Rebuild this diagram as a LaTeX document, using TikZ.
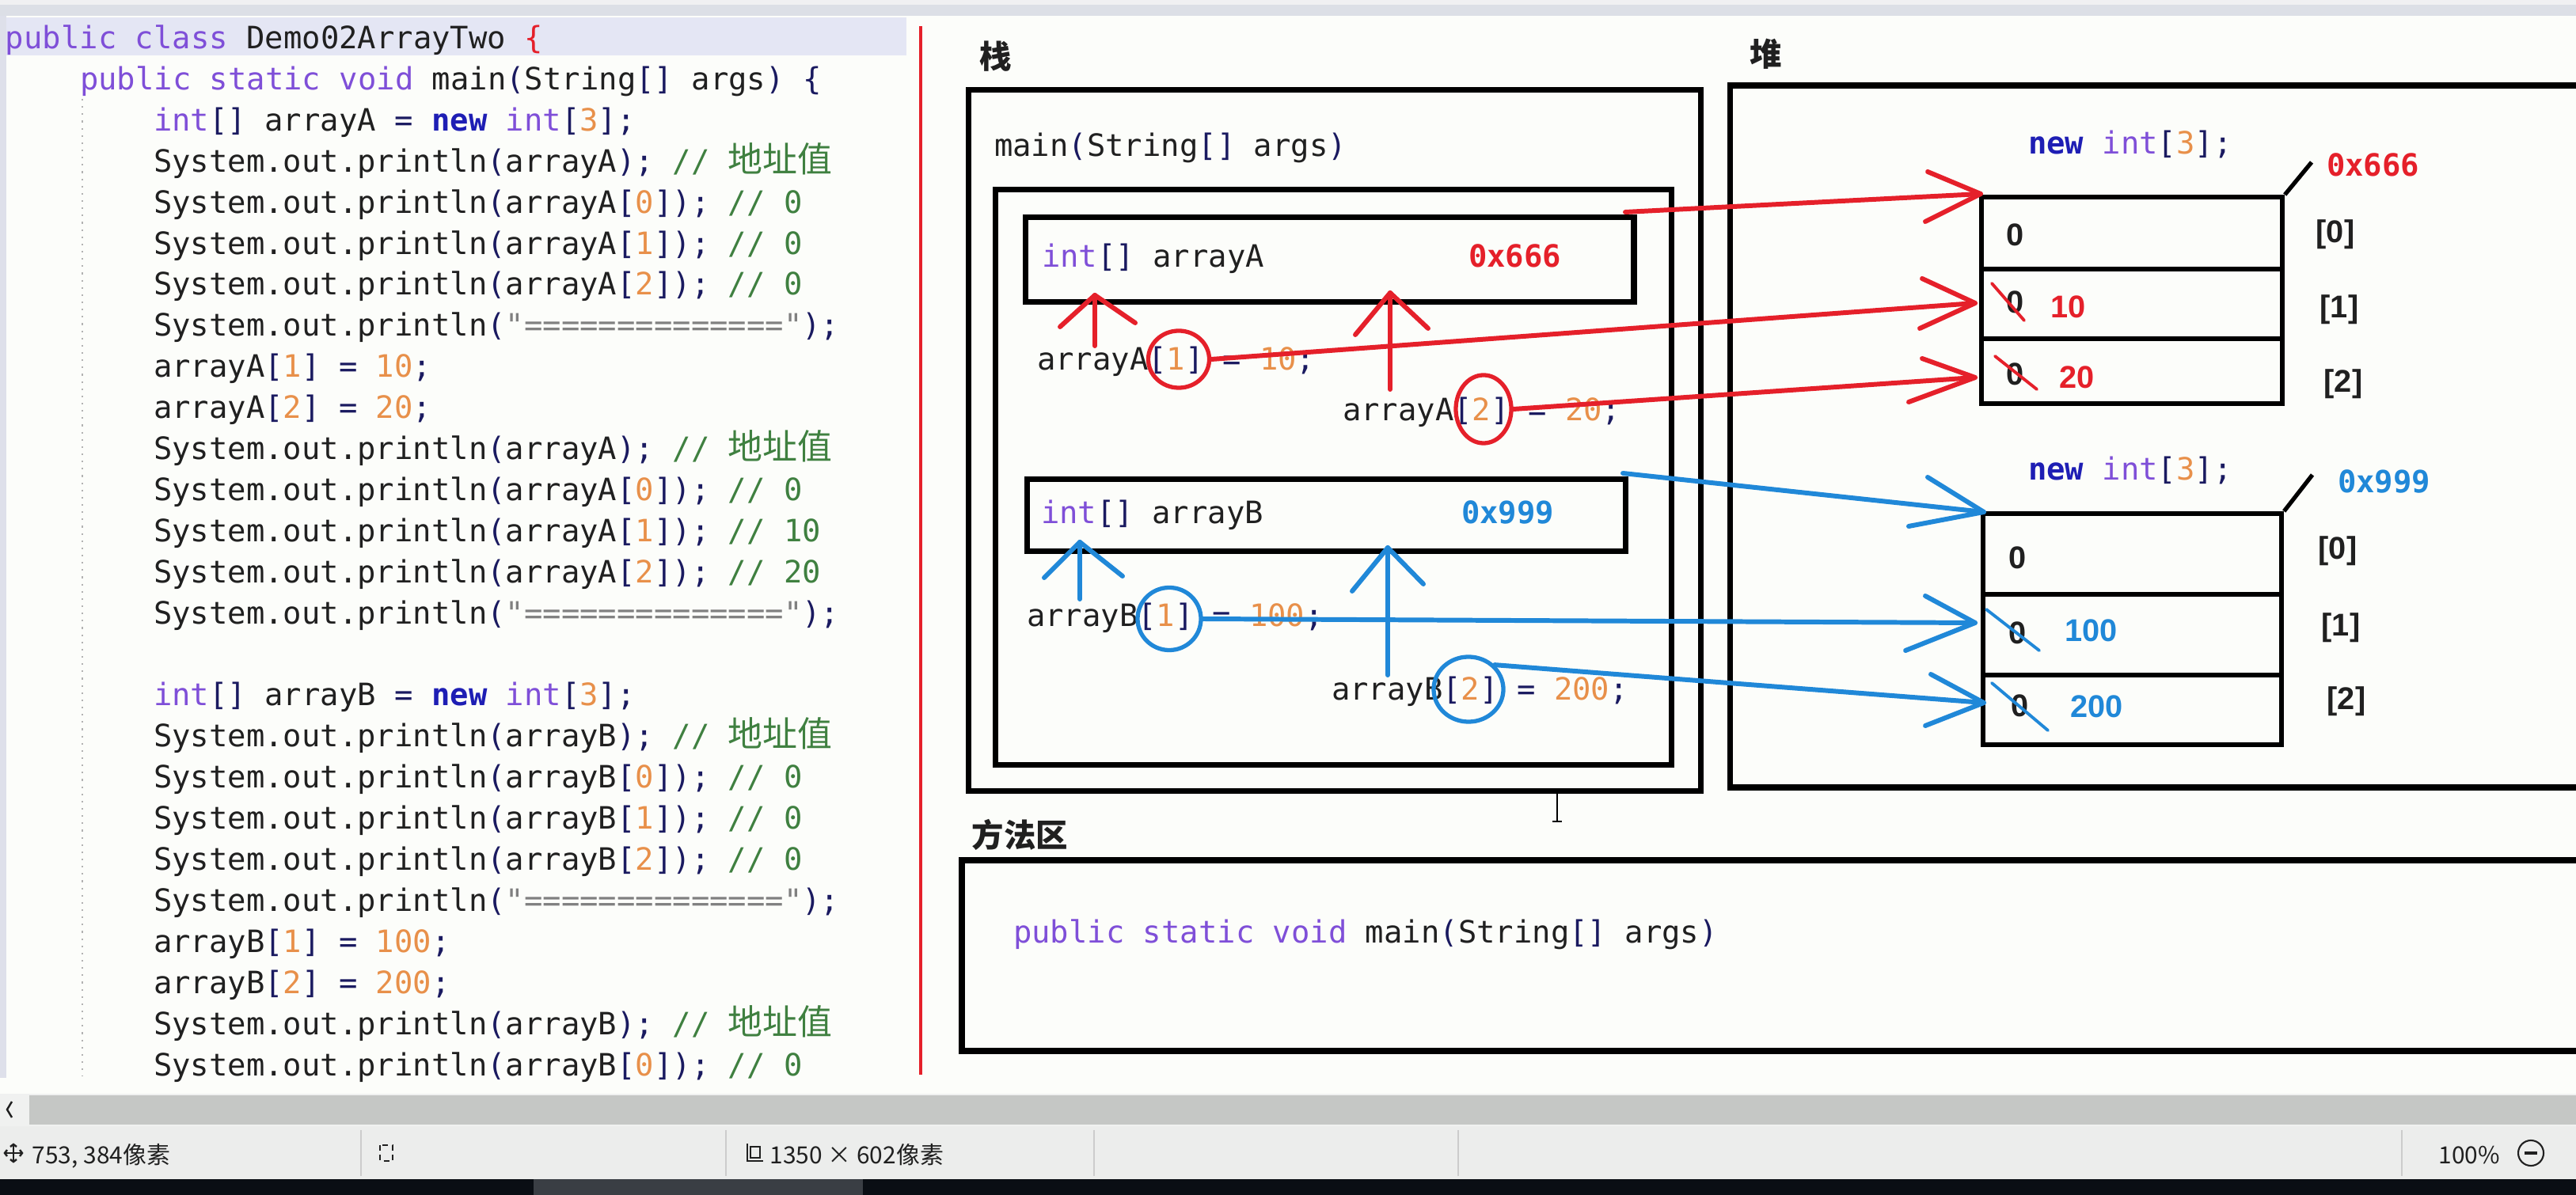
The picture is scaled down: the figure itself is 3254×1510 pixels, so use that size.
\documentclass[tikz,border=0pt]{standalone}
\usepackage{fontspec}
\usetikzlibrary{shapes.geometric}
\setmonofont{DejaVu Sans Mono}
\newfontfamily\cjk{Noto Sans CJK SC}
\newfontfamily\sansb{Liberation Sans}
\definecolor{bg}{HTML}{FCFDFA}
\definecolor{txt}{HTML}{202020}
\definecolor{kwc}{HTML}{7F4FD8}
\definecolor{newc}{HTML}{1E1EB4}
\definecolor{brc}{HTML}{1A1A60}
\definecolor{numc}{HTML}{E8904A}
\definecolor{cmc}{HTML}{3F8040}
\definecolor{strc}{HTML}{808080}
\definecolor{pred}{HTML}{E5202A}
\definecolor{pblue}{HTML}{2088D8}
\definecolor{hl}{HTML}{E4E6F4}
\newcommand\jkw[1]{\textcolor{kwc}{#1}}
\newcommand\jbr[1]{\textcolor{brc}{#1}}
\newcommand\jnum[1]{\textcolor{numc}{#1}}
\newcommand\jcm[1]{\textcolor{cmc}{#1}}
\newcommand\jstr[1]{\textcolor{strc}{#1}}
\newcommand\jnew{\textcolor{newc}{\bfseries new}}
\newcommand\cjkc[1]{{\cjk\fontsize{12.5}{13}\selectfont #1}}
\begin{document}
\begin{tikzpicture}[x=0.01cm,y=-0.01cm,
  code/.style={anchor=mid west,inner sep=0pt,outer sep=0pt,yshift=-0.07cm,font=\ttfamily\fontsize{11.06}{13}\selectfont,text=txt},
  cellnum/.style={anchor=mid west,inner sep=0pt,yshift=-0.06cm,font=\sansb\bfseries\fontsize{11.3}{13}\selectfont,text=txt},
  titlecjk/.style={anchor=mid west,inner sep=0pt,yshift=-0.06cm,font=\cjk\bfseries\fontsize{11.5}{13}\selectfont,text=txt},
  frame/.style={draw=black,line width=2pt,anchor=north west,inner sep=0pt},
  redpen/.style={draw=pred,line width=1.7pt,line cap=round,line join=round},
  bluepen/.style={draw=pblue,line width=1.7pt,line cap=round,line join=round},
  thinred/.style={draw=pred,line width=1.1pt,line cap=round},
  thinblue/.style={draw=pblue,line width=1.1pt,line cap=round},
  circA/.style={draw=pred,line width=1.5pt,ellipse,inner sep=0pt},
  circB/.style={draw=pblue,line width=1.5pt,ellipse,inner sep=0pt},
  status/.style={anchor=mid west,inner sep=0pt,yshift=-0.06cm,font=\cjk\fontsize{8.5}{10}\selectfont,text=txt}]
\useasboundingbox (0,0) rectangle (3254,1510);
\fill[bg] (0,0) rectangle (3254,1510);
% top bar and left strip
\fill[fill={rgb,255:red,220;green,223;blue,230}] (0,0) rectangle (3254,20);
\fill[fill={rgb,255:red,240;green,240;blue,242}] (0,0) rectangle (3254,6);
\fill[fill={rgb,255:red,222;green,224;blue,234}] (0,20) rectangle (8,1362);
% line 1 highlight
\fill[hl] (8,22) rectangle (1145,70);
% indent guide
\draw[gray!60,dotted,line width=0.6pt] (104,125) -- (104,1360);
% code lines
\node[code] (l1) at (7,47) {\jkw{public} \jkw{class} Demo02ArrayTwo \textcolor{pred}{\{}};
\node[code] (l2) at (101,99) {\jkw{public} \jkw{static} \jkw{void} main\jbr{(}String\jbr{[]} args\jbr{)} \jbr{\{}};
\node[code] (l3) at (194,151) {\jkw{int}\jbr{[]} arrayA \jbr{=} \jnew{} \jkw{int}\jbr{[}\jnum{3}\jbr{];}};
\node[code] (l4) at (194,203) {System.out.println\jbr{(}arrayA\jbr{);} \jcm{// \cjkc{地址值}}};
\node[code] (l5) at (194,255) {System.out.println\jbr{(}arrayA\jbr{[}\jnum{0}\jbr{]);} \jcm{// 0}};
\node[code] (l6) at (194,307) {System.out.println\jbr{(}arrayA\jbr{[}\jnum{1}\jbr{]);} \jcm{// 0}};
\node[code] (l7) at (194,358) {System.out.println\jbr{(}arrayA\jbr{[}\jnum{2}\jbr{]);} \jcm{// 0}};
\node[code] (l8) at (194,410) {System.out.println\jbr{(}\jstr{"=============="}\jbr{);}};
\node[code] (l9) at (194,462) {arrayA\jbr{[}\jnum{1}\jbr{]} \jbr{=} \jnum{10}\jbr{;}};
\node[code] (l10) at (194,514) {arrayA\jbr{[}\jnum{2}\jbr{]} \jbr{=} \jnum{20}\jbr{;}};
\node[code] (l11) at (194,566) {System.out.println\jbr{(}arrayA\jbr{);} \jcm{// \cjkc{地址值}}};
\node[code] (l12) at (194,618) {System.out.println\jbr{(}arrayA\jbr{[}\jnum{0}\jbr{]);} \jcm{// 0}};
\node[code] (l13) at (194,670) {System.out.println\jbr{(}arrayA\jbr{[}\jnum{1}\jbr{]);} \jcm{// 10}};
\node[code] (l14) at (194,722) {System.out.println\jbr{(}arrayA\jbr{[}\jnum{2}\jbr{]);} \jcm{// 20}};
\node[code] (l15) at (194,774) {System.out.println\jbr{(}\jstr{"=============="}\jbr{);}};
\node[code] (l17) at (194,877) {\jkw{int}\jbr{[]} arrayB \jbr{=} \jnew{} \jkw{int}\jbr{[}\jnum{3}\jbr{];}};
\node[code] (l18) at (194,929) {System.out.println\jbr{(}arrayB\jbr{);} \jcm{// \cjkc{地址值}}};
\node[code] (l19) at (194,981) {System.out.println\jbr{(}arrayB\jbr{[}\jnum{0}\jbr{]);} \jcm{// 0}};
\node[code] (l20) at (194,1033) {System.out.println\jbr{(}arrayB\jbr{[}\jnum{1}\jbr{]);} \jcm{// 0}};
\node[code] (l21) at (194,1085) {System.out.println\jbr{(}arrayB\jbr{[}\jnum{2}\jbr{]);} \jcm{// 0}};
\node[code] (l22) at (194,1137) {System.out.println\jbr{(}\jstr{"=============="}\jbr{);}};
\node[code] (l23) at (194,1189) {arrayB\jbr{[}\jnum{1}\jbr{]} \jbr{=} \jnum{100}\jbr{;}};
\node[code] (l24) at (194,1241) {arrayB\jbr{[}\jnum{2}\jbr{]} \jbr{=} \jnum{200}\jbr{;}};
\node[code] (l25) at (194,1293) {System.out.println\jbr{(}arrayB\jbr{);} \jcm{// \cjkc{地址值}}};
\node[code] (l26) at (194,1345) {System.out.println\jbr{(}arrayB\jbr{[}\jnum{0}\jbr{]);} \jcm{// 0}};
% red separator
\draw[pred,line width=1.4pt] (1163,33) -- (1163,1358);
% titles
\node[titlecjk] (zhan) at (1237,73) {栈};
\node[titlecjk] (dui) at (2210,70) {堆};
\node[titlecjk] (ffq) at (1227,1057) {方法区};
% stack frames
\node[frame,minimum width=9.24cm,minimum height=8.85cm] (stack) at (1220,110) {};
\node[frame,minimum width=8.53cm,minimum height=7.27cm] (mainf) at (1254,236) {};
\node[frame,minimum width=7.68cm,minimum height=1.07cm] (boxA) at (1292,271) {};
\node[frame,minimum width=7.56cm,minimum height=0.91cm] (boxB) at (1294,602) {};
\node[code] (mainsig) at (1256,183) {main\jbr{(}String\jbr{[]} args\jbr{)}};
\node[code] (declA) at (1316,323) {\jkw{int}\jbr{[]} arrayA};
\node[code,text=pred,font=\ttfamily\bfseries\fontsize{11.06}{13}\selectfont] (addrA) at (1855,323) {0x666};
\node[code] (declB) at (1315,647) {\jkw{int}\jbr{[]} arrayB};
\node[code,text=pblue,font=\ttfamily\bfseries\fontsize{11.06}{13}\selectfont] (addrB) at (1846,647) {0x999};
\node[code] (asA1) at (1310,453) {arrayA\jbr{[}\jnum{1}\jbr{]} \jbr{=} \jnum{10}\jbr{;}};
\node[code] (asA2) at (1696,517) {arrayA\jbr{[}\jnum{2}\jbr{]} \jbr{=} \jnum{20}\jbr{;}};
\node[code] (asB1) at (1297,777) {arrayB\jbr{[}\jnum{1}\jbr{]} \jbr{=} \jnum{100}\jbr{;}};
\node[code] (asB2) at (1682,870) {arrayB\jbr{[}\jnum{2}\jbr{]} \jbr{=} \jnum{200}\jbr{;}};
% heap frame (open at right)
\draw[black,line width=2pt] (3262,108) -- (2185,108) -- (2185,995) -- (3262,995);
% method area (open at right)
\draw[black,line width=2pt] (3262,1087) -- (1215,1087) -- (1215,1328) -- (3262,1328);
\node[code] (msig) at (1280,1177) {\jkw{public} \jkw{static} \jkw{void} main\jbr{(}String\jbr{[]} args\jbr{)}};
% heap array A
\node[code] (newA) at (2562,180) {\jnew{} \jkw{int}\jbr{[}\jnum{3}\jbr{];}};
\node[frame,line width=1.7pt,minimum width=3.8cm,minimum height=0.91cm] (hA0) at (2500,246) {};
\node[frame,line width=1.7pt,minimum width=3.8cm,minimum height=0.88cm] (hA1) at (2500,337) {};
\node[frame,line width=1.7pt,minimum width=3.8cm,minimum height=0.82cm] (hA2) at (2500,425) {};
\draw[black,line width=1.5pt] (hA0.north east) -- (2920,205);
\node[code,text=pred,font=\ttfamily\bfseries\fontsize{11.06}{13}\selectfont] (hAaddr) at (2939,208) {0x666};
\node[cellnum] (vA0) at (2534,297) {0};
\node[cellnum] (vA1) at (2534,382) {0};
\node[cellnum] (vA2) at (2534,473) {0};
\node[cellnum,text=pred] (nA1) at (2590,388) {10};
\node[cellnum,text=pred] (nA2) at (2601,477) {20};
\node[cellnum] (iA0) at (2925,293) {[0]};
\node[cellnum] (iA1) at (2930,388) {[1]};
\node[cellnum] (iA2) at (2935,482) {[2]};
\draw[thinred] (2516,358) -- (2557,405);
\draw[thinred] (2520,450) -- (2573,492);
% heap array B
\node[code] (newB) at (2562,592) {\jnew{} \jkw{int}\jbr{[}\jnum{3}\jbr{];}};
\node[frame,line width=1.7pt,minimum width=3.77cm,minimum height=1.02cm] (hB0) at (2502,646) {};
\node[frame,line width=1.7pt,minimum width=3.77cm,minimum height=1.02cm] (hB1) at (2502,748) {};
\node[frame,line width=1.7pt,minimum width=3.77cm,minimum height=0.88cm] (hB2) at (2502,850) {};
\draw[black,line width=1.5pt] (hB0.north east) -- (2921,600);
\node[code,text=pblue,font=\ttfamily\bfseries\fontsize{11.06}{13}\selectfont] (hBaddr) at (2953,608) {0x999};
\node[cellnum] (vB0) at (2537,705) {0};
\node[cellnum] (vB1) at (2537,800) {0};
\node[cellnum] (vB2) at (2540,892) {0};
\node[cellnum,text=pblue] (nB1) at (2608,797) {100};
\node[cellnum,text=pblue] (nB2) at (2615,893) {200};
\node[cellnum] (iB0) at (2928,693) {[0]};
\node[cellnum] (iB1) at (2932,790) {[1]};
\node[cellnum] (iB2) at (2939,883) {[2]};
\draw[thinblue] (2509,770) -- (2576,822);
\draw[thinblue] (2516,863) -- (2587,923);
% circles
\node[circA,minimum width=0.77cm,minimum height=0.72cm] (cA1) at (1489,454) {};
\node[circA,minimum width=0.70cm,minimum height=0.86cm] (cA2) at (1874,517) {};
\node[circB,minimum width=0.80cm,minimum height=0.79cm] (cB1) at (1477,782) {};
\node[circB,minimum width=0.88cm,minimum height=0.82cm] (cB2) at (1855,871) {};
% red arrows
\coordinate (tA0) at (2502,245);
\coordinate (tA1) at (2495,383);
\coordinate (tA2) at (2495,477);
\draw[redpen] (2053,268) -- (tA0);
\draw[redpen] (2435,217) -- (tA0) -- (2432,280);
\draw[redpen] (cA1.east) -- (tA1);
\draw[redpen] (2428,352) -- (tA1) -- (2425,415);
\draw[redpen] (cA2.east) -- (tA2);
\draw[redpen] (2428,453) -- (tA2) -- (2411,508);
\coordinate (uA1) at (1383,373);
\coordinate (uA2) at (1756,370);
\draw[redpen] (1383,437) -- (uA1);
\draw[redpen] (1339,413) -- (uA1) -- (1434,408);
\draw[redpen] (1756,492) -- (uA2);
\draw[redpen] (1712,423) -- (uA2) -- (1804,415);
% blue arrows
\coordinate (tB0) at (2506,647);
\coordinate (tB1) at (2495,787);
\coordinate (tB2) at (2506,888);
\draw[bluepen] (2050,598) -- (tB0);
\draw[bluepen] (2435,603) -- (tB0) -- (2411,665);
\draw[bluepen] (cB1.east) -- (tB1);
\draw[bluepen] (2432,753) -- (tB1) -- (2407,822);
\draw[bluepen] (cB2.north east) -- (tB2);
\draw[bluepen] (2439,852) -- (tB2) -- (2432,917);
\coordinate (uB1) at (1364,685);
\coordinate (uB2) at (1753,692);
\draw[bluepen] (1364,757) -- (uB1);
\draw[bluepen] (1319,730) -- (uB1) -- (1418,728);
\draw[bluepen] (1753,853) -- (uB2);
\draw[bluepen] (1708,747) -- (uB2) -- (1798,738);
% text cursor
\draw[black,line width=0.6pt] (1967,998) -- (1967,1038) (1961,998) -- (1973,998) (1961,1038) -- (1973,1038);
% scrollbar
\fill[fill={rgb,255:red,240;green,241;blue,240}] (0,1382) rectangle (3254,1423);
\fill[fill={rgb,255:red,197;green,199;blue,197}] (37,1384) rectangle (3254,1421);
\draw[txt,line width=0.7pt] (15,1392) -- (9,1402) -- (15,1412);
% status bar
\fill[fill={rgb,255:red,236;green,237;blue,236}] (0,1423) rectangle (3254,1490);
\foreach \sx in {456,917,1382,1842,3034} \draw[gray!40,line width=0.5pt] (\sx,1428) -- (\sx,1486);
\draw[txt,line width=0.7pt] (6,1457) -- (28,1457) (17,1446) -- (17,1468);
\draw[txt,line width=0.7pt] (9,1453) -- (6,1457) -- (9,1461) (25,1453) -- (28,1457) -- (25,1461) (13,1449) -- (17,1446) -- (21,1449) (13,1465) -- (17,1468) -- (21,1465);
\node[status] (pos) at (40,1457) {753, 384像素};
\draw[txt,line width=0.7pt,dash pattern=on 2pt off 1.5pt] (480,1447) rectangle (496,1467);
\draw[txt,line width=0.7pt] (944,1445) -- (944,1467) -- (964,1467) (948,1449) rectangle (960,1463);
\node[status] (sel) at (972,1457) {1350 × 602像素};
\node[status] (zoomlbl) at (3080,1457) {100\%};
\draw[txt,line width=0.6pt] (3197,1457) circle [radius=0.16cm];
\draw[txt,line width=1pt] (3189,1457) -- (3205,1457);
% bottom black bar
\fill[fill={rgb,255:red,10;green,14;blue,20}] (0,1490) rectangle (3254,1510);
\fill[fill={rgb,255:red,58;green,62;blue,68}] (674,1490) rectangle (1090,1510);
\end{tikzpicture}
\end{document}
